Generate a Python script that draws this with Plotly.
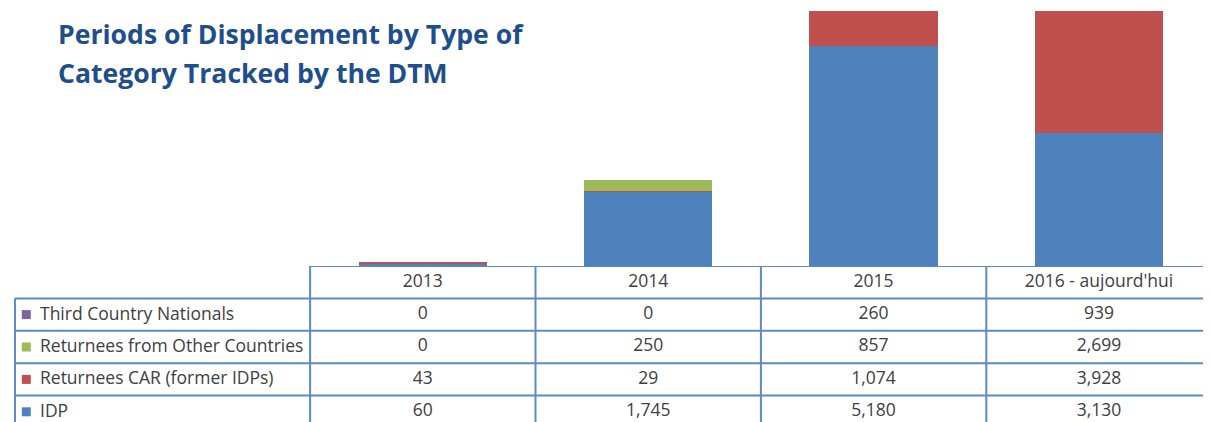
import plotly.graph_objects as go

# ---------------- data ----------------
periods = ["2013", "2014", "2015", "2016 - aujourd'hui"]
series_names = ["IDP", "Returnees CAR (former IDPs)", "Returnees from Other Countries", "Third Country Nationals"]
idp = [60, 1745, 5180, 3130]
returnees_car = [43, 29, 1074, 3928]
returnees_other = [0, 250, 857, 2699]
third_country = [0, 0, 260, 939]
series_values = [idp, returnees_car, returnees_other, third_country]
series_colors = ["#4F81BD", "#C0504D", "#9BBB59", "#8064A2"]
title_lines = ["Periods of Displacement by Type of", "Category Tracked by the DTM"]

# ---------------- layout constants ----------------
PAGE_W, PAGE_H = 1211, 422
OFF = 8                      # default body margin of the html page
W, H = PAGE_W - OFF, PAGE_H - OFF

def fx(p):                   # page px -> figure px (x)
    return p - OFF

def fy(p):                   # page px -> figure px (y)
    return p - OFF

col_w = 225.4                # px per category
first_center = fx(422.8)     # figure px of first category center
x0 = -first_center / col_w
x1 = x0 + W / col_w

def px2x(p):
    return x0 + fx(p) / col_w

table_top = fy(266)
plot_top = fy(11)
row_h_px = 32.4
y2_bottom = (H - table_top) / row_h_px

label_left = px2x(15)
marker_x = px2x(26.3)
label_x = px2x(38)

grid_color = "#5A8AC8"
text_color = "#404040"
tfont = dict(family="Open Sans, Lato, sans-serif", size=17.5, color=text_color)

fig = go.Figure()

# stacked bars
for name, vals, col in zip(series_names, series_values, series_colors):
    fig.add_trace(go.Bar(
        x=list(range(len(periods))), y=vals, name=name,
        marker=dict(color=col, line=dict(width=0)),
        width=0.57, xaxis="x", yaxis="y", showlegend=False,
    ))

# table: header
fig.add_trace(go.Scatter(
    x=list(range(len(periods))), y=[0.5] * len(periods), mode="text",
    text=periods, textfont=tfont, xaxis="x", yaxis="y2",
    showlegend=False, hoverinfo="skip",
))

annotations = []
# table rows (top-to-bottom: reverse of stacking order)
row_order = list(range(len(series_names)))[::-1]
for r, si in enumerate(row_order):
    yrow = r + 1.5
    vals = series_values[si]
    fig.add_trace(go.Scatter(
        x=list(range(len(periods))), y=[yrow] * len(periods), mode="text",
        text=[f"{v:,}" for v in vals], textfont=tfont, xaxis="x", yaxis="y2",
        showlegend=False, hoverinfo="skip",
    ))
    fig.add_trace(go.Scatter(
        x=[marker_x], y=[yrow], mode="markers",
        marker=dict(symbol="square", size=9, color=series_colors[si], line=dict(width=0)),
        xaxis="x", yaxis="y2", showlegend=False, hoverinfo="skip",
    ))
    annotations.append(dict(
        text=series_names[si], x=label_x, y=yrow, xref="x", yref="y2",
        xanchor="left", yanchor="middle", yshift=2, showarrow=False, font=tfont,
    ))

# table grid lines
shapes = []
line = dict(color=grid_color, width=2)
ncols = len(periods)
nrows = len(series_names)
shapes.append(dict(type="line", xref="x", yref="y2", x0=-0.5, x1=x1 + 1, y0=0, y1=0, line=line))
for r in range(1, nrows + 1):
    shapes.append(dict(type="line", xref="x", yref="y2", x0=label_left, x1=x1 + 1, y0=r, y1=r, line=line))
for c in range(ncols + 1):
    shapes.append(dict(type="line", xref="x", yref="y2", x0=c - 0.5, x1=c - 0.5, y0=0, y1=y2_bottom + 1, line=line))
shapes.append(dict(type="line", xref="x", yref="y2", x0=label_left, x1=label_left, y0=1, y1=y2_bottom + 1, line=line))

title_font = dict(family="Open Sans, Lato, sans-serif", size=26.6, color="#1F4E8C")
title_baselines = [44.3, 83.3]
for t, b in zip(title_lines, title_baselines):
    mid = fy(b) - 0.39 * title_font["size"]
    annotations.append(dict(
        text=f"<b>{t}</b>", x=fx(56) / W, y=1 - mid / H, xref="paper", yref="paper",
        xanchor="left", yanchor="middle", showarrow=False, font=title_font,
    ))

table_frac = (H - table_top) / H
fig.update_layout(
    width=W, height=H, margin=dict(l=0, r=0, t=0, b=0),
    paper_bgcolor="white", plot_bgcolor="white",
    barmode="stack", bargap=0,
    xaxis=dict(range=[x0, x1], domain=[0, 1], visible=False, fixedrange=True),
    yaxis=dict(range=[0, 6000], domain=[table_frac, 1 - plot_top / H], visible=False, anchor="x"),
    yaxis2=dict(range=[y2_bottom, 0], domain=[0, table_frac], visible=False, anchor="x"),
    shapes=shapes, annotations=annotations,
)

fig.write_html("out.html")
